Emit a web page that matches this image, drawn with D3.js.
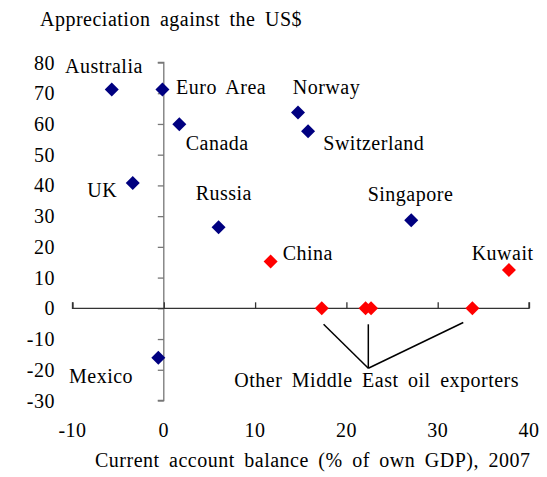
<!DOCTYPE html>
<html>
<head>
<style>
  body { margin: 0; background: #fff; }
  svg text { font-family: "Liberation Serif", "Times New Roman", serif; font-size: 20px; fill: #000; letter-spacing: 0.5px; word-spacing: 4px; }
</style>
</head>
<body>
<svg id="svg" width="547" height="477"></svg>
<script src="https://d3js.org/d3.v7.min.js"></script>
<script>
// countries plotted: current account balance vs appreciation
const names = ['Australia', 'Euro Area', 'Canada', 'UK', 'Mexico', 'Norway', 'Switzerland', 'Russia', 'Singapore', 'China', 'Kuwait', 'ME1', 'ME2', 'ME3', 'ME4']
const balance = [-5.7, -0.15, 1.7, -3.4, -0.6, 14.7, 15.8, 6.0, 27.1, 11.7, 37.8, 17.3, 22.1, 22.7, 33.8]
const appreciation = [71.2, 71.2, 59.9, 40.8, -16.1, 63.7, 57.6, 26.4, 28.7, 15.2, 12.5, 0, 0, 0, 0]
const oilExporter = [0, 0, 0, 0, 0, 0, 0, 0, 0, 1, 1, 1, 1, 1, 1]

// label text and where it sits (in data units)
const labelText = ['Australia', 'Euro Area', 'Norway', 'Canada', 'Switzerland', 'UK', 'Russia', 'Singapore', 'China', 'Kuwait', 'Mexico', 'Other Middle East oil exporters']
const labelX = [-10.82, 1.34, 14.12, 2.4, 17.47, -8.38, 3.49, 22.33, 13.02, 33.72, -10.38, 7.72]
const labelY = [76.7, 69.9, 69.9, 51.5, 51.5, 36.3, 35.4, 35.0, 15.7, 15.7, -24.2, -25.5]

// leader lines from the Middle East points to their label
const leaderFrom = [[17.5, -5.2], [22.4, -5.2], [32.8, -4.6]]
const leaderTo = [22.4, -19.5]

const xTicks = [-10, 0, 10, 20, 30, 40]
const yTicks = [-30, -20, -10, 0, 10, 20, 30, 40, 50, 60, 70, 80]

const x = d3.scaleLinear().domain([-10, 40]).range([72.5, 529])
const y = d3.scaleLinear().domain([-30, 80]).range([400.5, 62.5])

const svg = d3.select('#svg')

// y axis at x = 0, ticks pointing left
const yAxis = svg.append('g')
  .attr('transform', `translate(${x(0)},0)`)
  .call(d3.axisLeft(y).tickValues(yTicks).tickSize(6).tickFormat(''))
yAxis.select('.domain').attr('d', `M-6,${y(80)}H0V${y(-30)}H-6`).attr('stroke', '#777').attr('stroke-width', 1.3)
yAxis.selectAll('.tick line').attr('stroke', '#777').attr('stroke-width', 1.3)

// x axis at y = 0, ticks pointing up
const xAxis = svg.append('g')
  .attr('transform', `translate(0,${y(0)})`)
  .call(d3.axisTop(x).tickValues(xTicks).tickSize(6).tickFormat(''))
xAxis.select('.domain').attr('d', `M${x(-10)},-6V0H${x(40)}V-6`).attr('stroke', '#333').attr('stroke-width', 1.3)
xAxis.selectAll('.tick line').attr('stroke', '#333').attr('stroke-width', 1.3)

// tick labels around the outside
svg.append('g').selectAll('text')
  .data(yTicks)
  .join('text')
  .attr('x', 55)
  .attr('y', d => y(d) + 7)
  .attr('text-anchor', 'end')
  .text(d => d)

svg.append('g').selectAll('text')
  .data(xTicks)
  .join('text')
  .attr('x', d => x(d))
  .attr('y', 437)
  .attr('text-anchor', 'middle')
  .text(d => d)

// titles
svg.append('text').attr('x', 40).attr('y', 25.5).text('Appreciation against the US$')
svg.append('text').attr('x', 95).attr('y', 466.5).text('Current account balance (% of own GDP), 2007')

// leader lines
svg.append('g').selectAll('line')
  .data(leaderFrom)
  .join('line')
  .attr('x1', d => x(d[0])).attr('y1', d => y(d[1]))
  .attr('x2', x(leaderTo[0])).attr('y2', y(leaderTo[1]))
  .attr('stroke', '#000').attr('stroke-width', 1.5)

// diamond markers
const diamond = d3.symbol().type(d3.symbolDiamond2).size(125)
svg.append('g').selectAll('path')
  .data(d3.range(names.length))
  .join('path')
  .attr('d', diamond)
  .attr('transform', i => `translate(${x(balance[i])},${y(appreciation[i])})`)
  .attr('fill', i => oilExporter[i] ? '#ff0000' : '#000080')

// point labels
svg.append('g').selectAll('text')
  .data(labelText)
  .join('text')
  .attr('x', (d, i) => x(labelX[i]))
  .attr('y', (d, i) => y(labelY[i]))
  .text(d => d)
</script>
</body>
</html>
